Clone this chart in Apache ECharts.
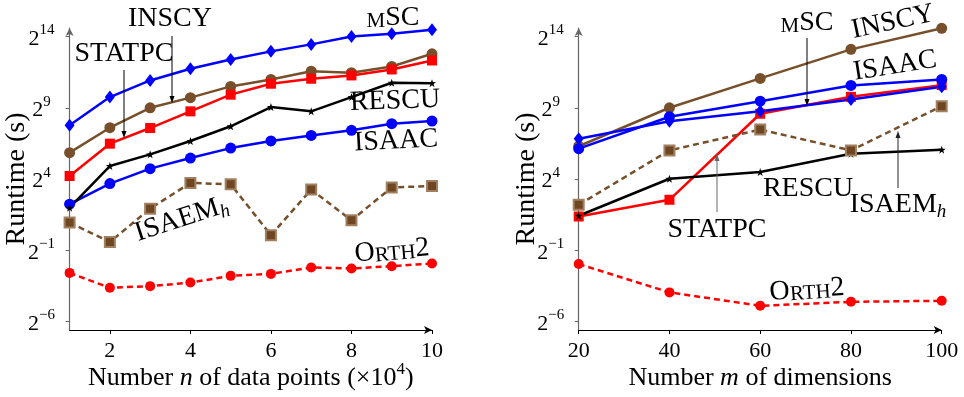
<!DOCTYPE html>
<html>
<head>
<meta charset="utf-8">
<script src="https://cdn.jsdelivr.net/npm/echarts@6/dist/echarts.min.js"></script>
<style>
html,body{margin:0;padding:0;background:#fff;}
#chart{width:964px;height:397px;}
</style>
</head>
<body>
<div id="chart"></div>
<script>
// ---- data (runtime in seconds) ----
const nPoints = [1, 2, 3, 4, 5, 6, 7, 8, 9, 10];          // x 10^4
const mDims = [20, 40, 60, 80, 100];
const yTickExp = [-6, -1, 4, 9, 14];                          // tick labels 2^k
const nTickLabels = [2, 4, 6, 8, 10];

// left: runtime vs number of data points
const n_mSC    = [218, 861, 1937, 3420, 5367, 7966, 11190, 16384, 18820, 22850];
const n_INSCY  = [57.7, 194, 512, 838, 1448, 2034, 3040, 2818, 3822, 7083];
const n_STATPC = [18.5, 89.3, 191, 430, 969, 1652, 2106, 2470, 3304, 5113];
const n_RESCU  = [3.97, 30.1, 53.1, 101.8, 208, 530, 430, 861, 1734, 1698];
const n_ISAAC  = [4.69, 12.8, 26.5, 44.3, 72.0, 101.8, 133, 171, 236, 269];
const n_ISAEMh = [1.92, 0.747, 3.78, 13.2, 12.4, 1.04, 9.58, 2.14, 10.6, 11.4];
const n_ORTH2  = [0.166, 0.0802, 0.0871, 0.1036, 0.1436, 0.158, 0.216, 0.206, 0.230, 0.262];

// right: runtime vs number of dimensions
const m_INSCY  = [78.8, 512, 2135, 8780, 24490];
const m_ISAAC  = [70.0, 331, 704, 1520, 2034];
const m_mSC    = [113, 267, 434, 765, 1428];
const m_STATPC = [2.58, 5.82, 383, 873, 1541];
const m_RESCU  = [2.68, 16.2, 22.5, 54.9, 66.7];
const m_ISAEMh = [4.56, 64.4, 177, 64.4, 553];
const m_ORTH2  = [0.255, 0.0643, 0.0335, 0.0406, 0.0427];

// ---- styles ----
const FONT = '"Liberation Serif", "Times New Roman", serif';
const BLUE = '#0000ff', RED = '#ff0000', BROWN = '#77502b', BLACK = '#000000';
const STAR = 'path://M0,-10 L2.35,-3.24 L9.51,-3.09 L3.8,1.24 L5.88,8.09 L0,4 L-5.88,8.09 L-3.8,1.24 L-9.51,-3.09 L-2.35,-3.24 Z';

function pairs(xs, ys) { return xs.map((x, i) => [x, ys[i]]); }

function mk(name, xi, yi, xs, ys, color, symbol, size, dashed, extraItem) {
  return {
    name: name, type: 'line', xAxisIndex: xi, yAxisIndex: yi,
    data: pairs(xs, ys),
    symbol: symbol, symbolSize: size, showSymbol: true,
    lineStyle: { color: color, width: 2.5, type: dashed ? [6, 4] : 'solid' },
    itemStyle: Object.assign({ color: color, opacity: 1 }, extraItem || {}),
    emphasis: { disabled: true },
    animation: false, z: 3
  };
}

const ISAEM_ITEM = { color: '#6e4722', borderColor: '#a08060', borderWidth: 2 };

const series = [
  mk('mSC', 0, 0, nPoints, n_mSC, BLUE, 'diamond', [10, 13], false),
  mk('INSCY', 0, 0, nPoints, n_INSCY, BROWN, 'circle', 11, false),
  mk('STATPC', 0, 0, nPoints, n_STATPC, RED, 'rect', 10, false),
  mk('ISAAC', 0, 0, nPoints, n_ISAAC, BLUE, 'circle', 11, false),
  mk('RESCU', 0, 0, nPoints, n_RESCU, BLACK, STAR, 8, false),
  mk('ISAEMh', 0, 0, nPoints, n_ISAEMh, BROWN, 'rect', 10, true, ISAEM_ITEM),
  mk('ORTH2', 0, 0, nPoints, n_ORTH2, RED, 'circle', 10, true),

  mk('INSCY', 1, 1, mDims, m_INSCY, BROWN, 'circle', 11, false),
  mk('STATPC', 1, 1, mDims, m_STATPC, RED, 'rect', 10, false),
  mk('ISAAC', 1, 1, mDims, m_ISAAC, BLUE, 'circle', 11, false),
  mk('mSC', 1, 1, mDims, m_mSC, BLUE, 'diamond', [10, 13], false),
  mk('RESCU', 1, 1, mDims, m_RESCU, BLACK, STAR, 8, false),
  mk('ISAEMh', 1, 1, mDims, m_ISAEMh, BROWN, 'rect', 10, true, ISAEM_ITEM),
  mk('ORTH2', 1, 1, mDims, m_ORTH2, RED, 'circle', 10, true)
];

function yAxisCfg(gridIndex, gap) {
  return {
    type: 'log', logBase: 2, gridIndex: gridIndex,
    min: Math.pow(2, -6.6), max: Math.pow(2, 14.6),
    splitLine: { show: false },
    axisLine: { show: true, lineStyle: { color: '#666', width: 1.2 }, symbol: ['none', 'arrow'], symbolSize: [6, 8] },
    axisTick: { show: true, length: 4, lineStyle: { color: '#666' }, customValues: yTickExp.map(e => Math.pow(2, e)) },
    axisLabel: {
      customValues: yTickExp.map(e => Math.pow(2, e)),
      align: 'center', margin: 28,
      formatter: function (v) {
        const e = Math.round(Math.log2(v));
        return '{b|2}{s|' + (e < 0 ? '\u2212' + (-e) : e) + '}';
      },
      rich: {
        b: { fontFamily: FONT, fontSize: 22, color: '#000', lineHeight: 27, verticalAlign: 'bottom' },
        s: { fontFamily: FONT, fontSize: 15, color: '#000', lineHeight: 15, verticalAlign: 'top' }
      }
    },
    name: 'Runtime (s)', nameLocation: 'middle', nameGap: gap, nameRotate: 90,
    nameMoveOverlap: false,
    nameTextStyle: { fontFamily: FONT, fontSize: 28, color: '#000' }
  };
}

const NAME_RICH = {
  a: { fontFamily: FONT, fontSize: 26, color: '#000', lineHeight: 30, verticalAlign: 'bottom' },
  i: { fontFamily: FONT, fontSize: 26, fontStyle: 'italic', color: '#000', lineHeight: 30, verticalAlign: 'bottom' },
  s: { fontFamily: FONT, fontSize: 17, color: '#000', lineHeight: 17, verticalAlign: 'top' }
};

const option = {
  backgroundColor: '#fff',
  animation: false,
  grid: [
    { left: 69.6, top: 28, width: 362.4, height: 302, outerBoundsMode: 'none', containLabel: false },
    { left: 578.7, top: 28, width: 363, height: 302, outerBoundsMode: 'none', containLabel: false }
  ],
  xAxis: [
    {
      type: 'value', gridIndex: 0, min: 1, max: 10,
      splitLine: { show: false },
      axisLine: { lineStyle: { color: '#000', width: 1 }, symbol: ['none', 'arrow'], symbolSize: [6, 8] },
      axisTick: { show: true, length: 4, lineStyle: { color: '#000' }, customValues: nTickLabels },
      axisLabel: { customValues: nTickLabels, fontFamily: FONT, fontSize: 22, color: '#000', margin: 10 },
      name: '{a|Number }{i|n}{a| of data points (\u00d710}{s|4}{a|)}',
      nameLocation: 'middle', nameGap: 31, nameMoveOverlap: false,
      nameTextStyle: { rich: NAME_RICH }
    },
    {
      type: 'value', gridIndex: 1, min: 20, max: 100, interval: 20,
      splitLine: { show: false },
      axisLine: { lineStyle: { color: '#000', width: 1 }, symbol: ['none', 'arrow'], symbolSize: [6, 8] },
      axisTick: { show: true, length: 4, lineStyle: { color: '#000' } },
      axisLabel: { fontFamily: FONT, fontSize: 22, color: '#000', margin: 10 },
      name: '{a|Number }{i|m}{a| of dimensions}',
      nameLocation: 'middle', nameGap: 31, nameMoveOverlap: false,
      nameTextStyle: { rich: NAME_RICH }
    }
  ],
  yAxis: [yAxisCfg(0, 39), yAxisCfg(1, 38)],
  series: series
};

// ---- annotations ----
const LBL = 28;
function txt(x, y, text, rotDeg, rich) {
  return {
    type: 'text', x: x, y: y, rotation: (rotDeg || 0) * Math.PI / 180, z: 20,
    style: {
      text: text, fontFamily: FONT, fontSize: LBL, fill: '#000',
      align: 'center', verticalAlign: 'middle', rich: rich
    }
  };
}
const SC_RICH = {
  n: { fontFamily: FONT, fontSize: LBL, fill: '#000', lineHeight: 28, verticalAlign: 'bottom' },
  c: { fontFamily: FONT, fontSize: 21, fill: '#000', lineHeight: 24, verticalAlign: 'bottom' }
};
const ISAEM_RICH = {
  n: { fontFamily: FONT, fontSize: LBL, fill: '#000', lineHeight: 30, verticalAlign: 'top' },
  h: { fontFamily: FONT, fontSize: 19, fontStyle: 'italic', fill: '#000', lineHeight: 19, verticalAlign: 'bottom' }
};
function arrow(x, y1, y2, color) {
  // arrow from y1 to y2 (head at y2)
  const dir = y2 > y1 ? 1 : -1;
  return [
    { type: 'line', z: 20, shape: { x1: x, y1: y1, x2: x, y2: y2 - dir * 3 }, style: { stroke: color, lineWidth: 1 } },
    { type: 'polygon', z: 20, shape: { points: [[x, y2], [x - 2.5, y2 - dir * 7], [x + 2.5, y2 - dir * 7]] }, style: { fill: color } }
  ];
}

option.graphic = [
  // left panel
  txt(170, 19, 'INSCY'),
  txt(124, 54, 'STATPC'),
  txt(393, 18, '{c|M}{n|SC}', 0, SC_RICH),
  txt(395, 101, 'RESCU', 2),
  txt(396, 141, 'ISAAC', 3),
  txt(182, 220, '{n|ISAEM}{h|h}', 18, ISAEM_RICH),
  txt(392, 251, '{n|O}{c|RTH}{n|2}', 5, SC_RICH),
  // right panel
  txt(807, 23, '{c|M}{n|SC}', 0, SC_RICH),
  txt(893, 22, 'INSCY', 12),
  txt(895, 66, 'ISAAC', 9),
  txt(808, 189, 'RESCU'),
  txt(898, 206, '{n|ISAEM}{h|h}', 0, ISAEM_RICH),
  txt(717, 230, 'STATPC'),
  txt(807, 290, '{n|O}{c|RTH}{n|2}', 4, SC_RICH)
].concat(
  arrow(172, 36, 103, '#000'),
  arrow(124, 70, 138, '#000'),
  arrow(807, 38, 106, '#000'),
  arrow(717, 212, 154, '#666'),
  arrow(898, 188, 131, '#222')
);

const chart = echarts.init(document.getElementById('chart'), null, { renderer: 'canvas' });
chart.setOption(option);
</script>
</body>
</html>
